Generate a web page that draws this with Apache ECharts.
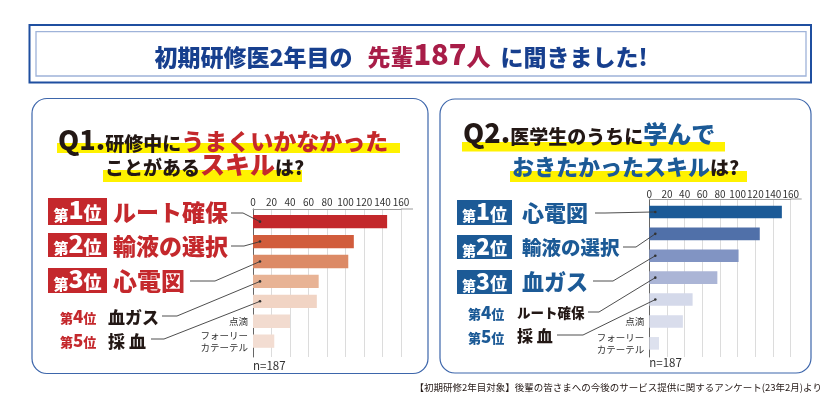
<!DOCTYPE html>
<html><head><meta charset="utf-8">
<script src="https://cdn.jsdelivr.net/npm/echarts@6/dist/echarts.min.js"></script>
<style>html,body{margin:0;padding:0;background:#fff}#c{width:832px;height:396px}</style>
</head><body><div id="c"></div>
<script>
// ---- data ----
const q1Categories = ['ルート確保','輸液の選択','心電図','血ガス','採血','点滴','フォーリーカテーテル'];
const q1Values = [145, 109, 103, 71, 69, 40, 23];
const q2Categories = ['心電図','輸液の選択','血ガス','ルート確保','採血','点滴','フォーリーカテーテル'];
const q2Values = [150, 125, 101, 77, 49, 38, 11];
const axisLabelText = {'点滴':'点滴','フォーリーカテーテル':'フォーリー\nカテーテル'};
const xMin = 0, xMax = 160, xStep = 20;
const sampleLabel = 'n=187';
const q1Colors = ['#c3282b','#d15c3c','#dc8a66','#e8b395','#f1d4c4','#f2dbcf','#f3ddd2'];
const q2Colors = ['#1b5a97','#5070a9','#8194c3','#abb5d6','#d4d9ea','#d9ddec','#dde1ee'];

const FF = "'Noto Sans CJK JP','Noto Sans',sans-serif";
const RED = '#c4282c', BLUE = '#1c5a96', NAVY = '#173f8e', CRIMSON = '#a81d48', INK = '#231815';

const chart = echarts.init(document.getElementById('c'), null, {renderer:'canvas'});

const L = {bg:{left:253, top:209, width:148, height:148}, bar:{left:253, top:211.7, width:148, height:139.4}, barW:13.3, lblMargin:2};
const R = {bg:{left:649.3, top:199, width:141.4, height:158}, bar:{left:649.3, top:201, width:141.4, height:153.3}, barW:12.6, lblMargin:0};

function bgX(g, m){ return {gridIndex:g, type:'value', min:xMin, max:xMax, interval:xStep, position:'top',
  axisLine:{show:true, onZero:false, lineStyle:{color:'#9a9a9a', width:1}}, axisTick:{show:false},
  axisLabel:{fontSize:10, color:'#333', margin:m, fontFamily:FF},
  splitLine:{show:true, lineStyle:{color:'#dcdcdc', width:1}}}; }
function barX(g){ return {gridIndex:g, type:'value', min:xMin, max:xMax, interval:xStep, show:false}; }
function bgY(g){ return {gridIndex:g, type:'value', min:0, max:1, axisLine:{show:true, onZero:false, lineStyle:{color:'#666', width:1}},
  axisLabel:{show:false}, axisTick:{show:false}, splitLine:{show:false}}; }
function barY(g, cats){ return {gridIndex:g, type:'category', data:cats, inverse:true, axisLine:{show:false}, axisTick:{show:false},
  axisLabel:{formatter:v=>axisLabelText[v]||'', fontSize:9.5, color:'#333', margin:5, lineHeight:12, fontFamily:FF}}; }

chart.setOption({
  animation:false,
  backgroundColor:'#fff',
  grid:[
    Object.assign({containLabel:false}, L.bg), Object.assign({containLabel:false}, L.bar),
    Object.assign({containLabel:false}, R.bg), Object.assign({containLabel:false}, R.bar)
  ],
  xAxis:[bgX(0, L.lblMargin), barX(1), bgX(2, R.lblMargin), barX(3)],
  yAxis:[bgY(0), barY(1, q1Categories), bgY(2), barY(3, q2Categories)],
  series:[
    {type:'bar', xAxisIndex:1, yAxisIndex:1, barWidth:L.barW, silent:true,
     data:q1Values.map((v,i)=>({value:v, itemStyle:{color:q1Colors[i]}}))},
    {type:'bar', xAxisIndex:3, yAxisIndex:3, barWidth:R.barW, silent:true,
     data:q2Values.map((v,i)=>({value:v, itemStyle:{color:q2Colors[i]}}))}
  ]
});

// ---- annotations ----
const G = [];
function rect(x,y,w,h,fill,stroke,lw,r,z){ G.push({type:'rect', z:z||0, shape:{x,y,width:w,height:h,r:r||0}, style:{fill:fill||'none', stroke:stroke||'none', lineWidth:lw||0}}); }
function text(x,y,str,rich,align,vAlign,z){ G.push({type:'text', z:z||5, x, y, style:{text:str, rich, align:align||'left', verticalAlign:vAlign||'bottom', fontFamily:FF}}); }
function tok(fs,color,extra){ return Object.assign({fontSize:fs, fill:color, color:color, fontWeight:900, fontFamily:FF, lineHeight:fs, verticalAlign:'bottom'}, extra||{}); }
function line(pts){ G.push({type:'polyline', z:20, shape:{points:pts}, style:{stroke:'#3a3a3a', lineWidth:0.9, fill:null}});
  const p = pts[pts.length-1]; G.push({type:'circle', z:21, shape:{cx:p[0], cy:p[1], r:1.3}, style:{fill:'#333'}}); }
function px(xi, yi, v, cat){ return chart.convertToPixel({xAxisIndex:xi, yAxisIndex:yi}, [v, cat]); }

// title box
rect(29.5, 25, 781.5, 57.5, 'none', '#1f4fa0', 2);
rect(36, 31.7, 770, 44.3, 'none', '#9fb3d9', 1.3);
text(401, 68.5, '{n|初期研修医2年目の}{s|}{c|先輩}{d|187}{p|人}{t|}{n|に聞きました!}', {
  n:tok(23, NAVY), c:tok(23, CRIMSON), d:tok(29, CRIMSON), p:tok(24, CRIMSON), s:{width:15}, t:{width:10}
}, 'center');

// panels
rect(32, 98.5, 396, 275, 'none', '#3d66ab', 1.2, 15);
rect(440, 99, 371, 274, 'none', '#3d66ab', 1.2, 15);

// yellow highlights
rect(57, 143, 343, 10, '#fff200');
rect(103, 170, 199, 12, '#fff200');
rect(462, 142, 263, 9.5, '#fff200');
rect(510, 171, 237, 11, '#fff200');

// question texts
text(58, 153, '{q|Q1.}{k|研修中に}{r|うまくいかなかった}', {q:tok(27, INK), k:tok(19, INK), r:tok(23, RED)});
text(105, 177, '{k|ことがある}{r|スキル}{k|は?}', {k:tok(19, INK), r:tok(25, RED)});
text(463, 146, '{q|Q2.}{k|医学生のうちに}{b|学んで}', {q:tok(27, INK), k:tok(19, INK), b:tok(24, BLUE)});
text(512, 177.5, '{b|おきたかったスキル}{k|は?}', {b:tok(22, BLUE), k:tok(19, INK)});

// rank boxes & labels (left)
const lBoxes = [[198,27],[233,24],[268,25]];
lBoxes.forEach((b,i)=>{
  rect(48, b[0], 59, b[1], RED);
  text(77.5, b[0]+b[1]/2+11, '{a|第}{b|'+(i+1)+'}{c|位}', {a:tok(15,'#fff'), b:tok(25,'#fff'), c:tok(18,'#fff')}, 'center');
});
text(113, 224, '{a|ルート確保}', {a:tok(23, RED)});
text(113, 257.5, '{a|輸液の選択}', {a:tok(23, RED)});
text(113, 292.5, '{a|心電図}', {a:tok(24, RED)});
text(60, 325, '{a|第}{b|4}{a|位}', {a:tok(13, RED), b:tok(17, RED)});
text(60, 349, '{a|第}{b|5}{a|位}', {a:tok(13, RED), b:tok(17, RED)});
text(108, 326, '{a|血ガス}', {a:tok(17, INK)});
text(108, 350, '{a|採 血}', {a:tok(17, INK)});

// rank boxes & labels (right)
const rBoxes = [[200,25],[235,24],[270,24]];
rBoxes.forEach((b,i)=>{
  rect(457, b[0], 55, b[1], BLUE);
  text(484.5, b[0]+b[1]/2+10.5, '{a|第}{b|'+(i+1)+'}{c|位}', {a:tok(14,'#fff'), b:tok(23,'#fff'), c:tok(17,'#fff')}, 'center');
});
text(522, 224, '{a|心電図}', {a:tok(22, BLUE)});
text(522, 257.5, '{a|輸液の選択}', {a:tok(19.5, BLUE)});
text(522, 293, '{a|血ガス}', {a:tok(22, BLUE)});
text(468, 321, '{a|第}{b|4}{a|位}', {a:tok(13, BLUE), b:tok(17, BLUE)});
text(468, 345, '{a|第}{b|5}{a|位}', {a:tok(13, BLUE), b:tok(17, BLUE)});
text(517, 320, '{a|ルート確保}', {a:tok(13.5, INK)});
text(517, 344, '{a|採 血}', {a:tok(16, INK)});

// connectors (end points derived from bar positions)
const lDot = i => { const p = px(1, 1, 0, q1Categories[i]); return [p[0]+7, p[1]]; };
const rDot = i => { const p = px(3, 3, 0, q2Categories[i]); return [p[0]+6, p[1]]; };
line([[231,213],[243,213], lDot(0)]);
line([[231,246],[244,246], lDot(1)]);
line([[190,281],[215,281], lDot(2)]);
line([[162,316],[177,316], lDot(3)]);
line([[151,339],[164,339], lDot(4)]);
line([[595,213],[605,213], rDot(0)]);
line([[623,247],[636,247], rDot(1)]);
line([[593,281],[613,281], rDot(2)]);
line([[588,312],[599,312], rDot(3)]);
line([[557,335],[583,335], rDot(4)]);

// axis line extension past last tick
const la = px(0, 0, xMax, 1), ra = px(2, 2, xMax, 1);
G.push({type:'line', z:5, shape:{x1:la[0], y1:la[1], x2:la[0]+12, y2:la[1]}, style:{stroke:'#9a9a9a', lineWidth:1}});
G.push({type:'line', z:5, shape:{x1:ra[0], y1:ra[1], x2:ra[0]+11, y2:ra[1]}, style:{stroke:'#9a9a9a', lineWidth:1}});

// sample size
const l0 = px(0, 0, 0, 0), r0 = px(2, 2, 0, 0);
G.push({type:'text', z:5, x:l0[0], y:l0[1]+9, style:{text:sampleLabel, fontSize:11.5, fill:'#333', fontFamily:FF, align:'left', verticalAlign:'middle'}});
G.push({type:'text', z:5, x:r0[0], y:r0[1]+6, style:{text:sampleLabel, fontSize:11.5, fill:'#333', fontFamily:FF, align:'left', verticalAlign:'middle'}});

// footer
G.push({type:'text', z:5, x:822, y:387, style:{text:'【初期研修2年目対象】後輩の皆さまへの今後のサービス提供に関するアンケート(23年2月)より', fontSize:9.5, fill:INK, fontFamily:FF, align:'right', verticalAlign:'middle'}});

chart.setOption({graphic:G});
</script>
</body></html>
